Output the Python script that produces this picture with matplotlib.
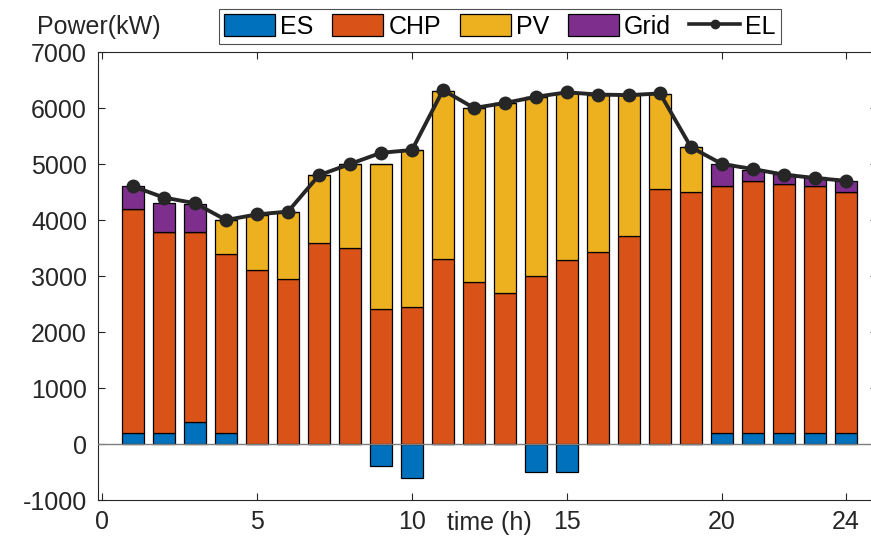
import numpy as np
import matplotlib
matplotlib.use("Agg")
import matplotlib.pyplot as plt
from matplotlib.lines import Line2D
from matplotlib.patches import Patch

# ----------------------------
# Data (kW)
# ----------------------------
hours = np.arange(1, 25)

es = [200, 200, 400, 200, 0, 0, 0, 0, -400, -600, 0, 0,
      0, -500, -500, 0, 0, 0, 0, 200, 200, 200, 200, 200]
chp = [4000, 3590, 3390, 3200, 3100, 2950, 3590, 3500, 2410, 2440, 3300, 2890,
       2700, 3000, 3290, 3430, 3720, 4550, 4500, 4400, 4500, 4450, 4400, 4300]
pv = [0, 0, 0, 600, 990, 1200, 1210, 1500, 2590, 2810, 3000, 3110,
      3390, 3200, 2980, 2800, 2510, 1700, 800, 0, 0, 0, 0, 0]
grid = [400, 510, 500, 0, 0, 0, 0, 0, 0, 0, 0, 0,
        0, 0, 0, 0, 0, 0, 0, 400, 200, 170, 170, 200]
el = [4600, 4400, 4300, 4000, 4100, 4150, 4800, 5000, 5200, 5250, 6320, 6000,
      6090, 6200, 6280, 6240, 6230, 6260, 5300, 5000, 4910, 4810, 4750, 4700]

x_ticks = [0, 5, 10, 15, 20, 24]
y_ticks = np.arange(-1000, 7001, 1000)

# ----------------------------
# Style
# ----------------------------
plt.rcParams["font.family"] = ["Liberation Sans", "DejaVu Sans"]
plt.rcParams["axes.unicode_minus"] = False
FS = 18

c_es = "#0072BD"
c_chp = "#D95319"
c_pv = "#EDB120"
c_grid = "#7E2F8E"
c_el = "#262626"

fig = plt.figure(figsize=(8.71, 5.36), dpi=100)
ax = fig.add_axes([98 / 871, 36 / 536, 779 / 871, 448 / 536])

es = np.array(es)
chp = np.array(chp)
pv = np.array(pv)
grid = np.array(grid)

# positive stack sits on top of ES when it discharges; charging goes below zero
pos_es = np.clip(es, 0, None)
bar_kw = dict(width=0.7, edgecolor="black", linewidth=0.9, zorder=2)

ax.bar(hours, es, color=c_es, **bar_kw)
ax.bar(hours, chp, bottom=pos_es, color=c_chp, **bar_kw)
ax.bar(hours, pv, bottom=pos_es + chp, color=c_pv, **bar_kw)
ax.bar(hours, grid, bottom=pos_es + chp + pv, color=c_grid, **bar_kw)

ax.axhline(0, color="#7f7f7f", linewidth=1.0, zorder=3)

ax.plot(hours, el, color=c_el, linewidth=2.8, marker="o",
        markersize=9, zorder=4)

ax.set_xlim(-0.13, 25)
ax.set_ylim(-1000, 7000)
ax.set_xticks(x_ticks)
ax.set_yticks(y_ticks)
ax.tick_params(direction="in", length=5, width=0.8, colors="#262626",
               top=True, right=True, labelsize=FS)
ax.tick_params(axis="y", pad=8)
ax.tick_params(axis="x", pad=7)
for s in ax.spines.values():
    s.set_color("#262626")
    s.set_linewidth(0.8)

# axis title sits on the tick-label row, between 10 and 15
ax.annotate("time (h)", xy=(12.5, 0), xycoords=("data", "axes fraction"),
            xytext=(0, -21.6), textcoords="offset points",
            ha="center", va="baseline", fontsize=FS, color="#262626")

fig.text(99 / 871, 1 - 27 / 536, "Power(kW)", ha="center", va="center",
         fontsize=FS, color="#262626")

handles = [
    Patch(facecolor=c_es, edgecolor="black", linewidth=0.9),
    Patch(facecolor=c_chp, edgecolor="black", linewidth=0.9),
    Patch(facecolor=c_pv, edgecolor="black", linewidth=0.9),
    Patch(facecolor=c_grid, edgecolor="black", linewidth=0.9),
    Line2D([], [], color=c_el, linewidth=2.6, marker="o", markersize=6),
]
labels = ["ES", "CHP", "PV", "Grid", "EL"]
leg = fig.legend(handles, labels, loc="center", bbox_to_anchor=(500 / 871, 1 - 26.5 / 536),
                 ncol=5, frameon=True, fancybox=False, fontsize=FS,
                 handlelength=2.04, handleheight=0.95, handletextpad=0.2,
                 columnspacing=0.75, borderpad=0.2, borderaxespad=0)
leg.get_frame().set_edgecolor("#262626")
leg.get_frame().set_linewidth(0.8)

fig.savefig("out.png", dpi=100)
